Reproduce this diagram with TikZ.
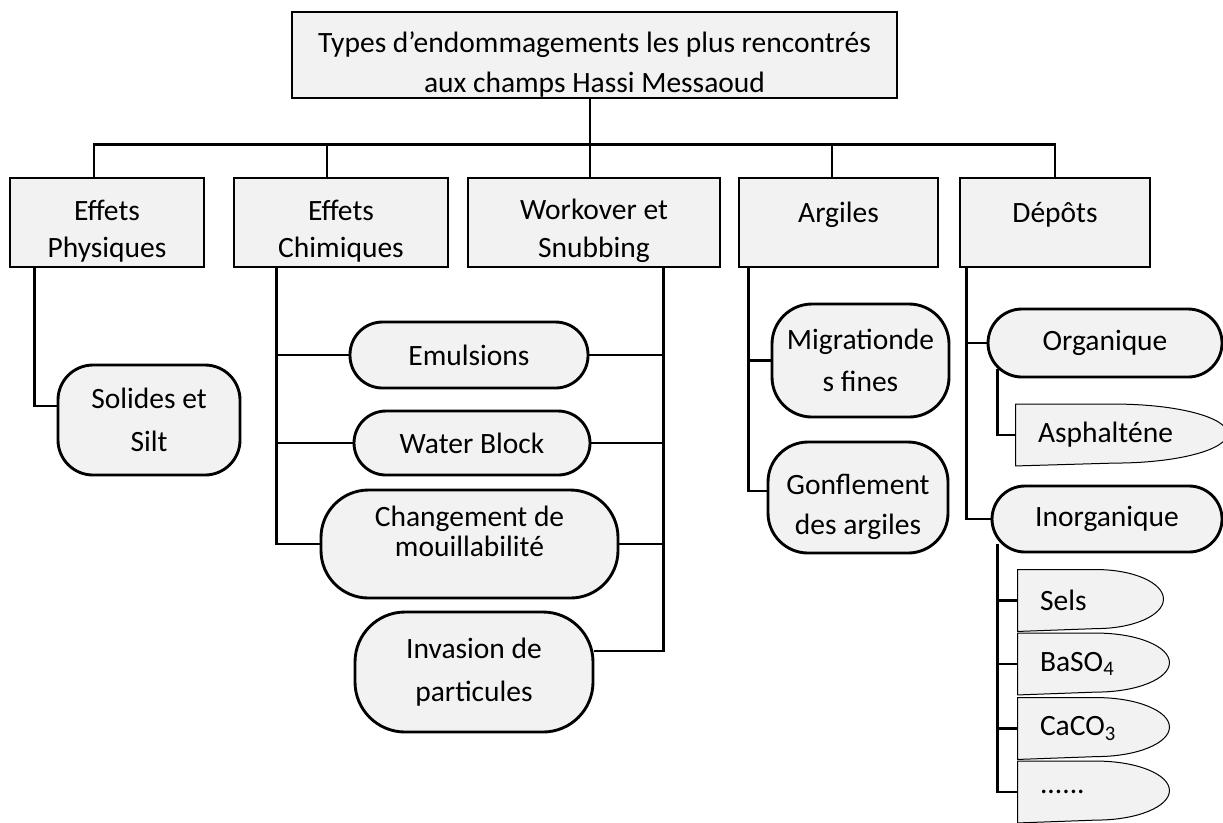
\documentclass[tikz,border=0pt]{standalone}
\usepackage{fontspec}
\setmainfont{Carlito}
\usetikzlibrary{backgrounds}
\definecolor{boxgray}{HTML}{F2F2F2}

\begin{document}
\begin{tikzpicture}[x=0.4pt,y=-0.4pt,line width=1.15pt,
  txt/.style={font=\fontsize{11.8}{15}\selectfont,align=center,inner sep=0pt},
  sq/.style={txt,draw,fill=boxgray,minimum height=35.6pt},
  rnd/.style={txt,draw,fill=boxgray,rounded corners=#1},
  dbox/.style={txt,align=left,inner xsep=8.4pt,minimum height=23.6pt}]
\useasboundingbox (0,0) rectangle (1223,822);

% top level
\node[sq,minimum width=242pt,minimum height=34.4pt,font=\fontsize{11.8}{16}\selectfont] (title) at (594.5,55) {\mbox{}\\Types d’endommagements les plus rencontrés\\aux champs Hassi Messaoud};
\node[sq,minimum width=77.6pt] (phys) at (107,222.5) {\mbox{}\\Effets\\Physiques};
\node[sq,minimum width=85.6pt] (chim) at (341,222.5) {\mbox{}\\Effets\\Chimiques};
\node[sq,minimum width=100.8pt] (work) at (594,222.5) {\mbox{}\\Workover et\\Snubbing};
\node[sq,minimum width=79.6pt] (argi) at (838.5,222.5) {\mbox{}\\Argiles\\~};
\node[sq,minimum width=76pt] (depo) at (1055,222.5) {\mbox{}\\Dépôts\\~};

% second level
\node[rnd=14pt,minimum width=72.8pt,minimum height=44pt,font=\fontsize{11.8}{17}\selectfont] (soli) at (149,420) {Solides et\\Silt};
\node[rnd=13pt,minimum width=95.2pt,minimum height=26.4pt] (emul) at (469,355) {Emulsions};
\node[rnd=12.8pt,minimum width=94.4pt,minimum height=25.6pt] (watr) at (472,443) {Water Block};
\node[rnd=19pt,minimum width=118.8pt,minimum height=43.2pt,font=\fontsize{11.8}{12.2}\selectfont] (chng) at (469.5,544) {Changement de\\mouillabilité\\[-2pt]\mbox{}};
\node[rnd=20pt,minimum width=95.2pt,minimum height=48pt,font=\fontsize{11.8}{17}\selectfont] (inva) at (474,672) {Invasion de\\particules};
\node[rnd=16pt,minimum width=70.8pt,minimum height=45.2pt,font=\fontsize{11.8}{17}\selectfont] (migr) at (860.5,360.5) {Migrationde\\s fines};
\node[rnd=16pt,minimum width=72pt,minimum height=44.4pt,font=\fontsize{11.8}{16}\selectfont] (gonf) at (858,497.5) {\mbox{}\\Gonflement\\des argiles};
\node[rnd=13.6pt,minimum width=93.6pt,minimum height=27.2pt] (orga) at (1105,343) {Organique};
\node[rnd=13.2pt,minimum width=92pt,minimum height=26.4pt] (inor) at (1107,519) {Inorganique};

% deposits
\node[dbox,text width=66.8pt] (asph) at (1121.5,435) {Asphalténe};
\node[dbox,text width=40.4pt] (sels) at (1090.5,600.5) {Sels};
\node[dbox,text width=42.8pt] (baso) at (1093.5,664) {BaSO\textsubscript{4}};
\node[dbox,text width=42.8pt] (caco) at (1093.5,728.5) {CaCO\textsubscript{3}};
\node[dbox,text width=42.8pt] (dots) at (1093.5,792) {......};
\begin{scope}[on background layer]
\foreach \nd/\r in {asph/113,sels/67,baso/73,caco/73,dots/73}
  \draw[fill=boxgray] (\nd.south west) -- (\nd.north west) -- ([xshift=-\r*0.4pt]\nd.north east)
    arc[start angle=90,end angle=-90,x radius=\r*0.4pt,y radius=11.8pt] -- cycle;
\end{scope}

% bus
\draw ([xshift=-1.8pt]title.south) -- ++(0,80);
\draw ([xshift=-5.2pt]phys.north) -- ++(0,-32) -| (depo.north);
\draw ([xshift=-5.6pt]chim.north) -- ++(0,-32);
\draw ([xshift=-2.6pt]argi.north) -- ++(0,-32);

% branches
\draw ([xshift=10.4pt]phys.south west) |- ([yshift=5.6pt]soli.west);
\draw ([xshift=17.6pt]chim.south west) coordinate (cx) |- (chng.west);
\draw (emul.west) -- (emul.west -| cx);
\draw (watr.west) -- (watr.west -| cx);
\draw ([xshift=-23.2pt]work.south east) coordinate (wx) |- ([yshift=8.4pt]inva.east);
\foreach \nd in {emul,watr,chng}
  \draw (\nd.east) -- (\nd.east -| wx);
\draw ([xshift=4.4pt]argi.south west) coordinate (ax) |- ([yshift=2.6pt]gonf.west);
\draw (migr.west) -- (migr.west -| ax);
\draw ([xshift=3.2pt]depo.south west) coordinate (dx) |- (inor.west);
\draw (orga.west) -- (orga.west -| dx);
\draw ([xshift=4.4pt,yshift=3.6pt]orga.south west) |- (asph.west);
\draw ([xshift=2.8pt,yshift=3.6pt]inor.south west) coordinate (ix) |- (dots.west);
\foreach \nd in {sels,baso,caco}
  \draw (\nd.west) -- (\nd.west -| ix);
\end{tikzpicture}
\end{document}
